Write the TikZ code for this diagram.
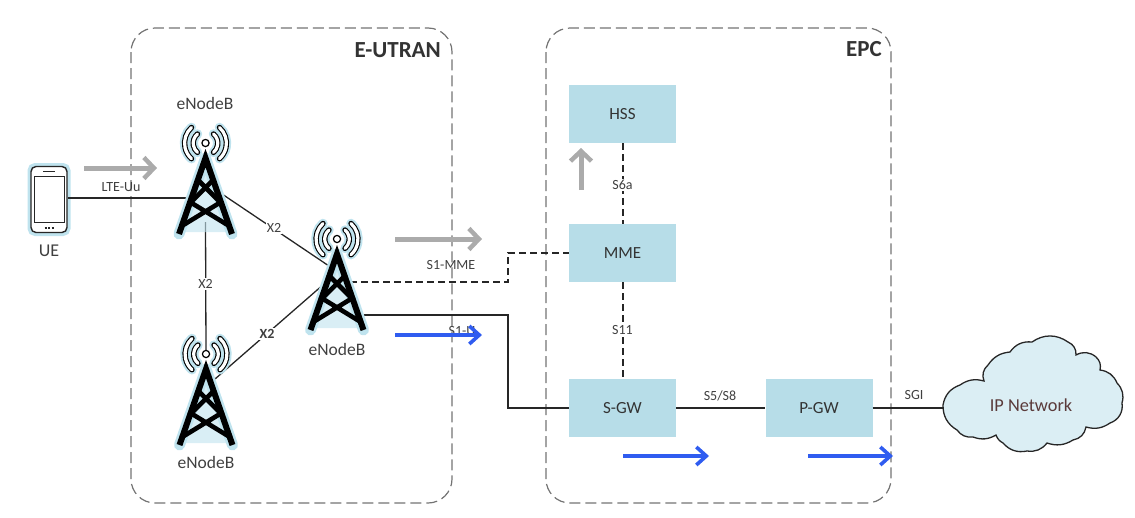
\documentclass[tikz,border=0pt]{standalone}
\usepackage{fontspec}
\setmainfont{Carlito}
\usetikzlibrary{arrows.meta,calc}
\definecolor{boxblue}{HTML}{B7DDE8}
\definecolor{glowblue}{HTML}{BFE3EE}
\definecolor{cloudblue}{HTML}{DBEEF4}
\definecolor{labelgray}{HTML}{404040}
\definecolor{flowgray}{HTML}{ABABAB}
\definecolor{flowblue}{HTML}{2F5CF0}
\definecolor{iptext}{HTML}{5A3A3A}
\tikzset{
  x=1pt,y=-1pt,
  regionbox/.style={draw=black!55,line width=1.2pt,dash pattern=on 11pt off 5pt,rounded corners=24pt},
  netbox/.style={fill=boxblue,minimum width=107pt,minimum height=58pt,inner sep=0pt,font=\fontsize{17}{20}\selectfont,text=black!80},
  lbl/.style={font=\fontsize{14}{16}\selectfont,text=labelgray,inner sep=1.2pt},
  lblw/.style={lbl,fill=white},
  nametext/.style={font=\fontsize{17.5}{20}\selectfont,text=labelgray,inner sep=0pt},
  titletext/.style={font=\bfseries\fontsize{23}{26}\selectfont,text=black!80,inner sep=0pt},
  linksolid/.style={draw=black!85,line width=1.3pt},
  linkdash/.style={draw=black!85,line width=1.6pt,dash pattern=on 7pt off 4pt},
  vlinkdash/.style={draw=black!85,line width=2pt,dash pattern=on 7pt off 4pt},
  grayflow/.style={draw=flowgray,line width=5pt,-{Straight Barb[length=10pt,width=21pt,line width=4.5pt]}},
  blueflow/.style={draw=flowblue,line width=3.2pt,-{Straight Barb[length=10pt,width=18pt,line width=3.6pt]}},
  towerspot/.style={minimum width=58pt,minimum height=100pt,inner sep=0pt},
}
\newcommand{\mastlegs}{(-26.5,82) -- (0,6) -- (26.5,82)}
\newcommand{\mastbraces}{%
  (-16.5,52) -- (7.5,28) (16.5,52) -- (-7.5,28)
  (-23.8,74) -- (15.5,50) (23.8,74) -- (-15.5,50)
}
\newcommand{\wavearcs}[2]{%
  \draw[line width=#1,draw=#2,line cap=round] (8,-18) arc[start angle=-50,end angle=50,radius=12];
  \draw[line width=#1,draw=#2,line cap=round] (-8,-18) arc[start angle=230,end angle=130,radius=12];
  \draw[line width=#1,draw=#2,line cap=round] (14,-24.5) arc[start angle=-48,end angle=48,radius=21];
  \draw[line width=#1,draw=#2,line cap=round] (-14,-24.5) arc[start angle=228,end angle=132,radius=21];
}
\newcommand{\mast}[2]{%
  \begin{scope}[shift={(#1,#2)}]
    \draw[glowblue,line width=11pt,line join=round,line cap=round] \mastlegs;
    \fill[glowblue,opacity=.6] (0,12) -- (24,80) -- (-24,80) -- cycle;
    \wavearcs{9.5pt}{glowblue}
    \begin{scope}
      \clip (-40,-3) rectangle (40,82);
      \draw[line width=6pt,line join=miter,miter limit=6,black] \mastlegs;
      \draw[line width=4.6pt,black] \mastbraces;
    \end{scope}
    \wavearcs{5.4pt}{black}
    \wavearcs{3.2pt}{white}
    \draw[black,fill=white,line width=1.2pt] (0,-9) circle[radius=3.6];
  \end{scope}%
}
\begin{document}
\begin{tikzpicture}
\useasboundingbox (0,0) rectangle (1135,517);
% regions
\draw[regionbox] (131,28) rectangle (452,503);
\draw[regionbox] (546,28) rectangle (891,503);
\node[titletext,anchor=east] (eutran) at (441,50) {E-UTRAN};
\node[titletext,anchor=east] (epc) at (882,49) {EPC};
% anchors of the towers
\node[towerspot] (t1) at (205.5,193) {};
\node[towerspot] (t2) at (337,289) {};
\node[towerspot] (t3) at (206,404) {};
\coordinate (t1l) at (190,198);
\coordinate (t1r) at (222,194);
\coordinate (t1b) at (205.5,222);
\coordinate (t2a) at (329,266);
\coordinate (t2b) at (324,284);
\coordinate (t2c) at (350,282);
\coordinate (t2d) at (362,315);
\coordinate (t3t) at (206,352);
\coordinate (t3r) at (215,379);
% boxes
\node[netbox] (hss) at (622.5,114) {HSS};
\node[netbox] (mme) at (622.5,253) {MME};
\node[netbox] (sgw) at (622.5,408) {S-GW};
\node[netbox] (pgw) at (819,408) {P-GW};
% cloud
\draw[draw=black!85,line width=1.3pt,fill=cloudblue]
  (943,405) to[bend left=30] (960,385) to[bend left=25] (984,381)
  to[bend left=35] (988,365) to[bend left=25] (1010,352) to[bend left=30] (1032,342)
  to[bend left=35] (1068,342) to[bend left=35] (1076,355) to[bend left=35] (1096,357)
  to[bend left=30] (1100,370) to[bend left=30] (1117,383) to[bend left=30] (1122,403)
  to[bend left=40] (1110,423) to[bend left=25] (1086,427) to[bend left=35] (1073,440)
  to[bend left=25] (1047,443) to[bend left=30] (1027,451) to[bend left=30] (1003,443)
  to[bend left=20] (996,435) to[bend left=25] (973,437) to[bend left=30] (957,430)
  to[bend left=30] (943,405) -- cycle;
\node[font=\fontsize{18.3}{21}\selectfont,text=iptext,inner sep=0pt] (ip) at (1031,405) {IP Network};
% phone
\node[draw=glowblue,line width=5pt,rounded corners=5pt,minimum width=38pt,minimum height=68pt,inner sep=0pt] (ueglow) at (49,199.5) {};
\node[draw=black!85,fill=white,line width=1.4pt,rounded corners=5pt,minimum width=36pt,minimum height=66pt,inner sep=0pt] (ue) at (49,199.5) {};
\draw[draw=black!85,fill=white,line width=1pt] (34,176) rectangle (64,222);
\draw[black!85,line width=1.2pt] (43,171.5) -- (55,171.5);
\draw[black!85,line width=1.6pt,dash pattern=on 2pt off 1.5pt] (44.5,228) -- (54,228);
\node[nametext,font=\fontsize{18}{20}\selectfont] (uename) at (49,251) {UE};
% connectors
\draw[linksolid] (ue.east |- t1l) -- (t1l);
\draw[linksolid] (t1r) -- (t2a);
\draw[linksolid] (t1b) -- (t3t);
\draw[linksolid] (t3r) -- (t2b);
\draw[linkdash] (t2c) -- (508,282) -- (508,253) -- (mme.west);
\draw[linksolid] (t2d) -- (508,315) -- (508,408) -- (sgw.west);
\draw[vlinkdash] (hss.south) -- (mme.north);
\draw[vlinkdash] (mme.south) -- (sgw.north);
\draw[linksolid] (sgw.east) -- (pgw.west);
\draw[linksolid] (pgw.east) -- (943,408);
% towers
\mast{205.5}{152}
\mast{337}{248}
\mast{206}{363}
\node[nametext] (n1) at (205,103) {eNodeB};
\node[nametext] (n2) at (337,349) {eNodeB};
\node[nametext] (n3) at (206,462) {eNodeB};
% labels
\node[lbl] (luu) at (121,187) {LTE-Uu};
\node[lblw] (lx1) at (274,228) {X2};
\node[lblw] (lx2) at (205.5,284) {X2};
\node[lblw,font=\bfseries\fontsize{14}{16}\selectfont] (lx3) at (267,334) {X2};
\node[lbl] (lmme) at (451,265) {S1-MME};
\node[lbl] (ls1) at (462,331) {S1-U};
\node[lblw] (ls6) at (622.5,185) {S6a};
\node[lblw] (ls11) at (622.5,330) {S11};
\node[lbl] (ls5) at (720,396) {S5/S8};
\node[lbl] (lsgi) at (914,395) {SGI};
% flow arrows
\coordinate (f1a) at (84,168); \coordinate (f1b) at (157,168);
\coordinate (f2a) at (395,239); \coordinate (f2b) at (482,239);
\coordinate (f3a) at (581,190); \coordinate (f3b) at (581,148);
\coordinate (f4a) at (395,335); \coordinate (f4b) at (482,335);
\coordinate (f5a) at (623,456); \coordinate (f5b) at (709,456);
\coordinate (f6a) at (808,456); \coordinate (f6b) at (893,456);
\draw[grayflow] (f1a) -- (f1b);
\draw[grayflow] (f2a) -- (f2b);
\draw[grayflow] (f3a) -- (f3b);
\draw[blueflow] (f4a) -- (f4b);
\draw[blueflow] (f5a) -- (f5b);
\draw[blueflow] (f6a) -- (f6b);
\end{tikzpicture}
\end{document}
